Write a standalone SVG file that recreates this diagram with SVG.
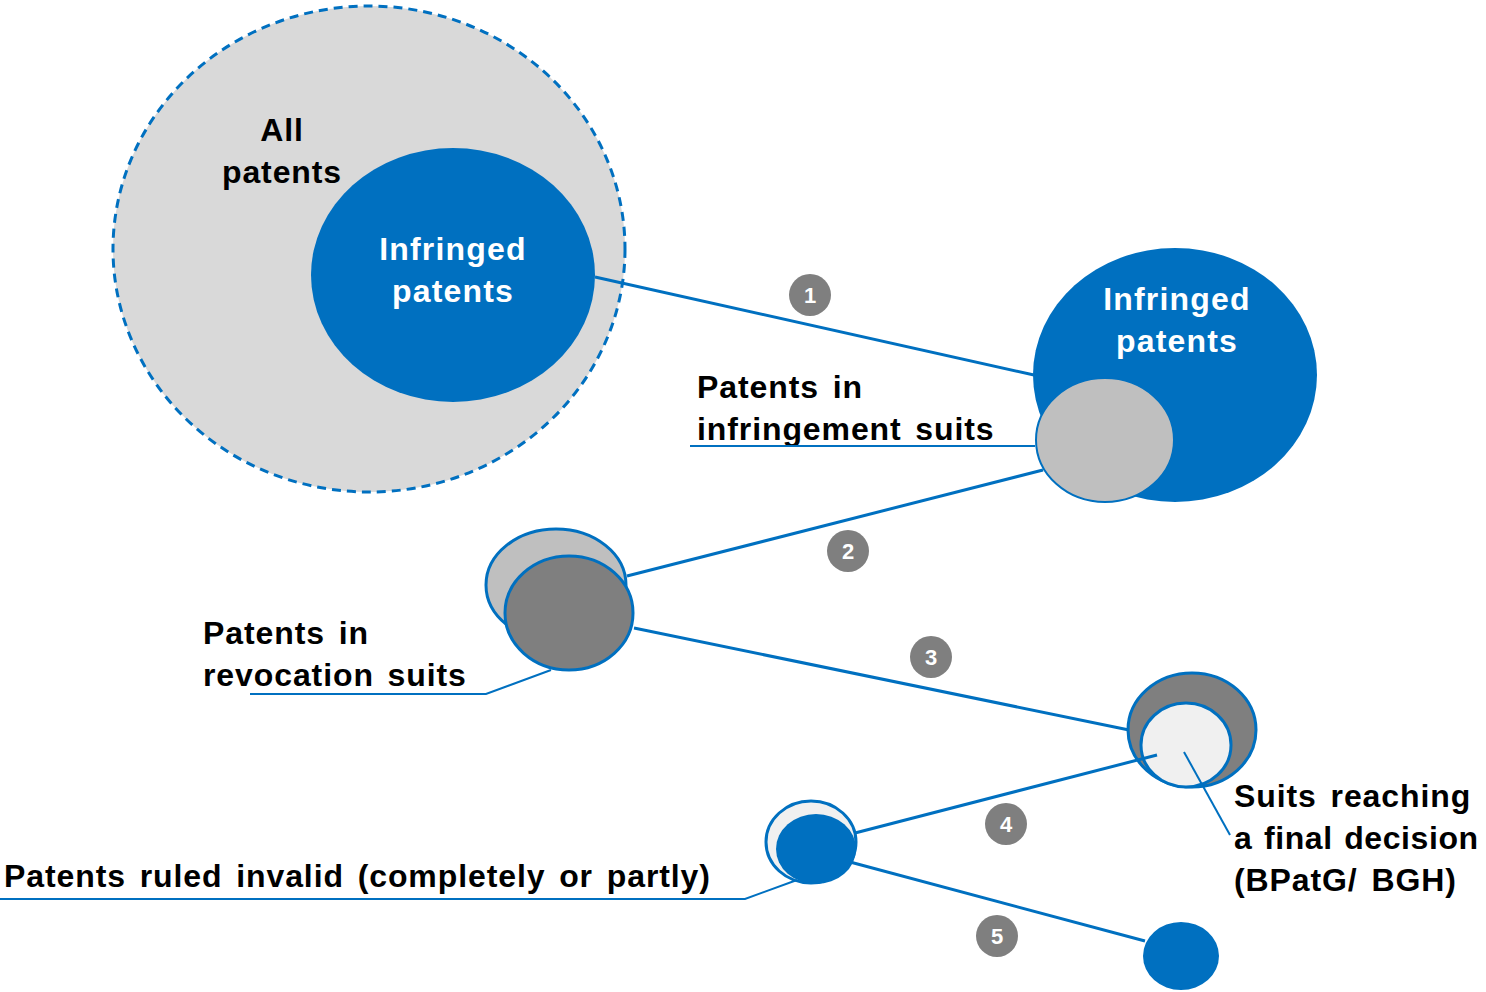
<svg xmlns="http://www.w3.org/2000/svg" width="1486" height="992" viewBox="0 0 1486 992">
<style>
.t{font-family:"Liberation Sans",Arial,sans-serif;font-weight:bold;font-size:32px;fill:#000;letter-spacing:0.9px;word-spacing:4px}
.w{fill:#fff;text-anchor:middle;letter-spacing:1.2px}
.ln{stroke:#0070c0;stroke-width:3;fill:none}
.thin{stroke:#0070c0;stroke-width:2;fill:none}
.bd{stroke:#0070c0;stroke-width:3}
.num{fill:#7f7f7f}
.nt{font-family:"Liberation Sans",Arial,sans-serif;font-weight:bold;font-size:22px;fill:#fff;text-anchor:middle}
</style>
<rect width="1486" height="992" fill="#fff"/>
<g id="all-patents">
<ellipse cx="369" cy="249" rx="256" ry="243" fill="#d9d9d9" stroke="#0070c0" stroke-width="3" stroke-dasharray="9,6"/>
<text class="t" x="282" y="141" text-anchor="middle">All</text>
<text class="t" x="282" y="183" text-anchor="middle">patents</text>
</g>
<g id="infringed-1">
<ellipse cx="453" cy="275" rx="142" ry="127" fill="#0070c0"/>
<text class="t w" x="453" y="260">Infringed</text>
<text class="t w" x="453" y="302">patents</text>
</g>
<g id="infringed-2">
<ellipse cx="1175" cy="375" rx="142" ry="127" fill="#0070c0"/>
<text class="t w" x="1177" y="310">Infringed</text>
<text class="t w" x="1177" y="352">patents</text>
</g>
<g id="infringement-suits">
<ellipse cx="1105" cy="440" rx="69" ry="62" fill="#bfbfbf" stroke="#0070c0" stroke-width="2"/>
<text class="t" x="697" y="398">Patents in</text>
<text class="t" x="697" y="440">infringement suits</text>
</g>
<g id="revocation-suits">
<ellipse cx="556" cy="585" rx="70" ry="56" fill="#bfbfbf" class="bd"/>
<ellipse cx="569" cy="613" rx="64" ry="57" fill="#7f7f7f" class="bd"/>
<text class="t" x="203" y="644">Patents in</text>
<text class="t" x="203" y="686">revocation suits</text>
</g>
<g id="final-decision">
<ellipse cx="1192" cy="730" rx="64" ry="57" fill="#7f7f7f" class="bd"/>
<ellipse cx="1186" cy="745" rx="45" ry="42" fill="#f0f0f0" class="bd"/>
<text class="t" x="1234" y="807">Suits reaching</text>
<text class="t" x="1234" y="849" style="letter-spacing:0.6px;word-spacing:2px">a final decision</text>
<text class="t" x="1234" y="891">(BPatG/ BGH)</text>
</g>
<g id="ruled-invalid">
<ellipse cx="811" cy="842" rx="45" ry="41" fill="#f0f0f0" class="bd"/>
<ellipse cx="816" cy="849" rx="40" ry="35" fill="#0070c0"/>
<text class="t" x="4" y="887">Patents ruled invalid (completely or partly)</text>
</g>
<g id="end">
<ellipse cx="1181" cy="956" rx="38" ry="34" fill="#0070c0"/>
</g>
<g id="connectors">
<line class="ln" x1="595" y1="277" x2="1034" y2="375"/>
<line class="ln" x1="1043" y1="470" x2="627" y2="576"/>
<line class="ln" x1="634" y1="628" x2="1129" y2="730"/>
<line class="ln" x1="1157" y1="755" x2="855" y2="833"/>
<line class="ln" x1="850" y1="862" x2="1145" y2="941"/>
<polyline class="thin" points="690,446 1035,446"/>
<polyline class="thin" points="250,694 486,694 551,670"/>
<polyline class="thin" points="0,899 745,899 797,880"/>
<line class="thin" x1="1184" y1="752" x2="1230" y2="835"/>
</g>
<g id="badges">
<circle class="num" cx="810" cy="295" r="21"/><text class="nt" x="810" y="303">1</text>
<circle class="num" cx="848" cy="551" r="21"/><text class="nt" x="848" y="559">2</text>
<circle class="num" cx="931" cy="657" r="21"/><text class="nt" x="931" y="665">3</text>
<circle class="num" cx="1006" cy="824" r="21"/><text class="nt" x="1006" y="832">4</text>
<circle class="num" cx="997" cy="936" r="21"/><text class="nt" x="997" y="944">5</text>
</g>
</svg>
